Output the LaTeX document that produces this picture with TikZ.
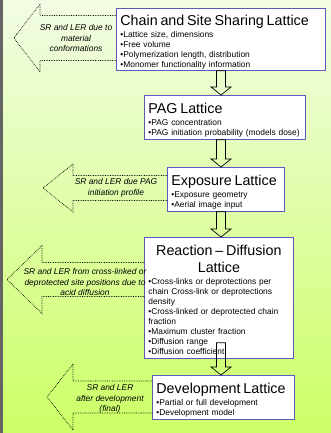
\documentclass[tikz,border=0pt]{standalone}
\usepackage{fontspec}
\setmainfont{Liberation Sans}
\usepackage{tikz}
\usetikzlibrary{calc}
\definecolor{latblue}{RGB}{90,90,190}
\definecolor{bgtop}{RGB}{242,252,228}
\definecolor{bgbottom}{RGB}{204,255,102}
\definecolor{edgegray}{RGB}{100,100,100}
\newcommand{\latTitle}[1]{{\fontsize{14.3}{17}\selectfont\rule{0pt}{15pt}#1\par}\vspace{2pt}}
\newcommand{\latItem}[1]{\textbullet#1\par}
% block arrow going down from one lattice to the next
\newcommand{\stepArrow}[2]{
  \draw[steparrow] (216.5,0 |- #1) -- ($(216.5,0 |- #2)+(0,-8)$) -- ++(-5.5,0) -- (221,0 |- #2)
    -- ++(10,-8) -- ++(-5.5,0) -- (225.5,0 |- #1) -- cycle;
}
% dotted block arrow pointing left out of a lattice box
\newcommand{\lerArrow}[6]{
  \draw[lerarrow] (#1.west |- 0,#4-#5) -- (#3,#4-#5) -- (#3,#4-#6) -- (#2,#4)
    -- (#3,#4+#6) -- (#3,#4+#5) -- (#1.west |- 0,#4+#5);
}

\begin{document}
\begin{tikzpicture}[x=1pt,y=-1pt,semithick,
    lattice/.style={draw=latblue,fill=white,line width=0.8pt,rectangle,anchor=north west,
      align=left,inner xsep=4pt,inner ysep=1pt,font=\fontsize{8.4}{10}\selectfont},
    lerlabel/.style={align=center,inner sep=0pt,font=\itshape\fontsize{8.4}{10.5}\selectfont},
    steparrow/.style={draw=black,line width=0.7pt},
    lerarrow/.style={draw=black,densely dotted,line width=0.7pt}]

  \useasboundingbox (0,0) rectangle (331,433);
  \shade[top color=bgtop,bottom color=bgbottom] (0,0) rectangle (331,433);
  \fill[edgegray] (0,0) rectangle (2.5,433);

  \node[lattice,text width=201pt,minimum height=62pt] (lat1) at (116,8) {\latTitle{Chain and Site Sharing Lattice}
    \latItem{Lattice size, dimensions}
    \latItem{Free volume}
    \latItem{Polymerization length, distribution}
    \latItem{Monomer functionality information}};

  \node[lattice,text width=153pt,minimum height=44pt] (lat2) at (144,95) {\latTitle{PAG Lattice}
    \latItem{PAG concentration}
    \latItem{PAG initiation probability (models dose)}};

  \node[lattice,text width=109pt,minimum height=44pt] (lat3) at (167,167) {\latTitle{Exposure Lattice}
    \latItem{Exposure geometry}
    \latItem{Aerial image input}};

  \node[lattice,text width=141pt,minimum height=121pt] (lat4) at (144,237) {{\centering\latTitle{Reaction -- Diffusion Lattice}}
    \latItem{Cross-links or deprotections per chain Cross-link or deprotections density}
    \latItem{Cross-linked or deprotected chain fraction}
    \latItem{Maximum cluster fraction}
    \latItem{Diffusion range}
    \latItem{Diffusion coefficient}};

  \node[lattice,text width=134pt,minimum height=44pt] (lat5) at (152,375) {\latTitle{Development Lattice}
    \latItem{Partial or full development}
    \latItem{Development model}};

  \stepArrow{lat1.south}{lat2.north}
  \stepArrow{lat2.south}{lat3.north}
  \stepArrow{lat3.south}{lat4.north}
  \coordinate (a4top) at ($(lat4.south)+(0,-16)$);
  \stepArrow{a4top}{lat5.north}

  \lerArrow{lat1}{14}{40}{38}{22.5}{34}
  \node[lerlabel] (ler1) at (76,38) {SR and LER due to\\material\\conformations};

  \lerArrow{lat3}{43}{73}{188}{12.5}{24}
  \node[lerlabel] (ler3) at (116,188) {SR and LER due PAG\\initiation profile};

  \lerArrow{lat4}{7}{42}{279.5}{17}{34}
  \node[lerlabel] (ler4) at (85,282) {SR and LER from cross-linked or\\deprotected site positions due to\\acid diffusion};

  \lerArrow{lat5}{47}{73}{397}{16}{33}
  \node[lerlabel] (ler5) at (110,399) {SR and LER\\after development\\(final)};

\end{tikzpicture}
\end{document}
